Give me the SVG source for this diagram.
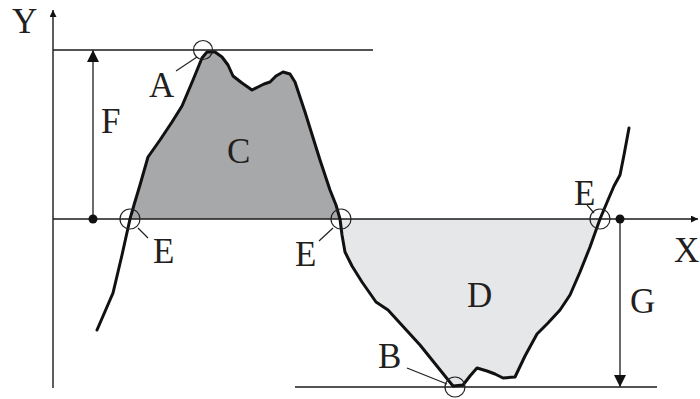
<svg xmlns="http://www.w3.org/2000/svg" width="700" height="399" viewBox="0 0 700 399">
<style>
.ax{stroke:#1a1a1a;stroke-width:1.4;fill:none}
.dim{stroke:#3a3a3a;stroke-width:1.5;fill:none}
.cur{stroke:#111;stroke-width:3;fill:none;stroke-linejoin:round;stroke-linecap:round}
.ring{stroke:#222;stroke-width:1.2;fill:none}
.ld{stroke:#222;stroke-width:1.2}
text{font-family:"Liberation Serif","Times New Roman",serif;font-size:35px;fill:#231f20}
</style>
<defs>
<marker id="ah" viewBox="0 0 10 10" refX="10" refY="5" markerWidth="13" markerHeight="7" markerUnits="userSpaceOnUse" orient="auto"><path d="M0,0L10,5L0,10Z" fill="#111"/></marker>
<marker id="ah2" viewBox="0 0 10 10" refX="10" refY="5" markerWidth="12" markerHeight="12" markerUnits="userSpaceOnUse" orient="auto"><path d="M0,0L10,5L0,10Z" fill="#111"/></marker>
</defs>
<g id="area-C"><path d="M132,219 L134,205 L140,185 L148,157 L160,140 L172,122 L182,106 L193,80 L202,58 L207,52 L215,52 L222,57 L228,65 L233,76 L242,83 L252,90 L258,87 L264,84 L270,82 L276,76 L283,72 L290,74 L295,82 L305,112 L320,160 L330,190 L336,205 L340,219 Z" fill="#a7a8aa"/></g>
<g id="area-D"><path d="M340,219 L342,235 L345,252 L352,266 L362,282 L376,302 L388,310 L420,345 L453,386 L463,385 L470,376 L477,368 L487,371 L495,374 L503,378 L515,377 L525,356 L537,334 L548,323 L560,310 L570,295 L580,272 L590,247 L600,219 Z" fill="#e6e7e8"/></g>
<g id="connectors">
<line class="ax" x1="53" y1="388" x2="53" y2="10" marker-end="url(#ah)"/>
<line class="ax" x1="53" y1="219" x2="698" y2="219" marker-end="url(#ah)"/>
<line class="ax" x1="53" y1="50" x2="373" y2="50"/>
<line class="ax" x1="295" y1="387" x2="657" y2="387"/>
<line class="dim" x1="93" y1="219" x2="93" y2="50" marker-end="url(#ah2)"/>
<line class="dim" x1="620" y1="219" x2="620" y2="387" marker-end="url(#ah2)"/>
<circle cx="93" cy="219" r="4.5" fill="#111"/>
<circle cx="620" cy="219" r="4.5" fill="#111"/>
<path class="cur" d="M97,330 L113,293 L122,255 L130,219 L134,205 L140,185 L148,157 L160,140 L172,122 L182,106 L193,80 L202,58 L207,52 L215,52 L222,57 L228,65 L233,76 L242,83 L252,90 L258,87 L264,84 L270,82 L276,76 L283,72 L290,74 L295,82 L305,112 L320,160 L330,190 L336,205 L340,219 L342,235 L345,252 L352,266 L362,282 L376,302 L388,310 L420,345 L453,386 L463,385 L470,376 L477,368 L487,371 L495,374 L503,378 L515,377 L525,356 L537,334 L548,323 L560,310 L570,295 L580,272 L590,247 L600,219 L608,200 L614,186 L620,175 L624,155 L629,128"/>
<line class="ld" x1="176" y1="71" x2="197" y2="57"/>
<line class="ld" x1="138" y1="228" x2="148" y2="238"/>
<line class="ld" x1="333" y1="228" x2="319" y2="241"/>
<line class="ld" x1="587" y1="205" x2="594" y2="213"/>
<line class="ld" x1="407" y1="368" x2="447" y2="384"/>
</g>
<g id="point-A"><circle class="ring" cx="203" cy="50" r="9.5"/><text x="149" y="97">A</text></g>
<g id="point-E1"><circle class="ring" cx="130" cy="219" r="10"/><text x="153" y="263">E</text></g>
<g id="point-E2"><circle class="ring" cx="341" cy="219" r="10"/><text x="295" y="266">E</text></g>
<g id="point-E3"><circle class="ring" cx="600" cy="219" r="10"/><text x="574" y="205">E</text></g>
<g id="point-B"><circle class="ring" cx="455" cy="387" r="10"/><text x="378" y="368">B</text></g>
<g id="label-C"><text x="227" y="163">C</text></g>
<g id="label-D"><text x="467" y="307">D</text></g>
<g id="label-F"><text x="101" y="133">F</text></g>
<g id="label-G"><text x="630" y="313">G</text></g>
<g id="label-X"><text x="674" y="262">X</text></g>
<g id="label-Y"><text x="12" y="33">Y</text></g>
</svg>
